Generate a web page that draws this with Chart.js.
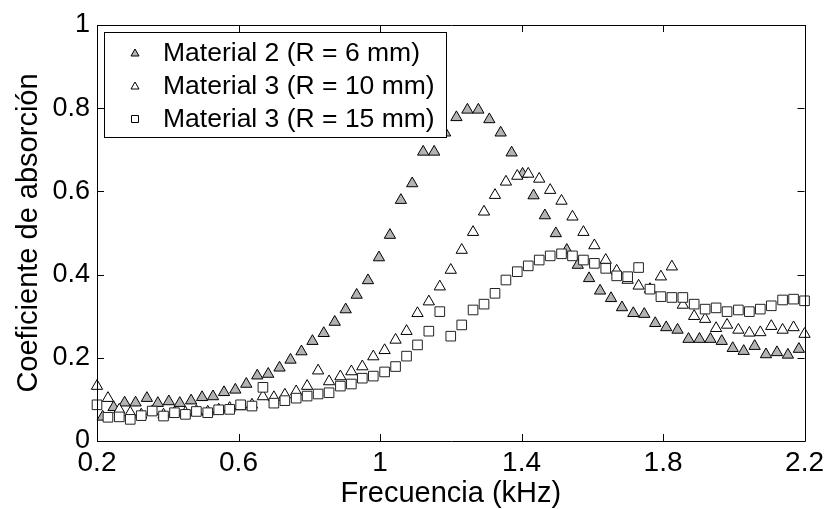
<!DOCTYPE html>
<html>
<head>
<meta charset="utf-8">
<script src="https://cdn.jsdelivr.net/npm/chart.js@4.4.0/dist/chart.umd.min.js"></script>
<style>
html, body { margin: 0; padding: 0; background: #fff; }
</style>
</head>
<body>
<canvas id="chart" width="829" height="509"></canvas>
<script>
// frequency grid (kHz) for Material 3 series
const freqA = [0.200, 0.231, 0.263, 0.294, 0.325, 0.356, 0.388, 0.419, 0.450, 0.481,
               0.513, 0.544, 0.575, 0.606, 0.638, 0.669, 0.700, 0.731, 0.763, 0.794,
               0.825, 0.856, 0.888, 0.919, 0.950, 0.981, 1.013, 1.044, 1.075, 1.106,
               1.138, 1.169, 1.200, 1.231, 1.263, 1.294, 1.325, 1.356, 1.388, 1.419,
               1.450, 1.481, 1.513, 1.544, 1.575, 1.606, 1.638, 1.669, 1.700, 1.731,
               1.763, 1.794, 1.825, 1.856, 1.888, 1.919, 1.950, 1.981, 2.013, 2.044,
               2.075, 2.106, 2.138, 2.169, 2.200];
// frequency grid (kHz) for Material 2 series
const freqB = [0.216, 0.247, 0.278, 0.309, 0.341, 0.372, 0.403, 0.434, 0.466, 0.497,
               0.528, 0.559, 0.591, 0.622, 0.653, 0.684, 0.716, 0.747, 0.778, 0.809,
               0.841, 0.872, 0.903, 0.934, 0.966, 0.997, 1.028, 1.059, 1.091, 1.122,
               1.153, 1.184, 1.216, 1.247, 1.278, 1.309, 1.341, 1.372, 1.403, 1.434,
               1.466, 1.497, 1.528, 1.559, 1.591, 1.622, 1.653, 1.684, 1.716, 1.747,
               1.778, 1.809, 1.841, 1.872, 1.903, 1.934, 1.966, 1.997, 2.028, 2.059,
               2.091, 2.122, 2.153, 2.184];

const mat2R6 = [0.058, 0.081, 0.092, 0.092, 0.103, 0.091, 0.095, 0.091, 0.097, 0.105,
                0.107, 0.117, 0.123, 0.137, 0.157, 0.161, 0.176, 0.195, 0.215, 0.240,
                0.259, 0.286, 0.316, 0.351, 0.386, 0.441, 0.495, 0.579, 0.619, 0.695,
                0.695, 0.741, 0.778, 0.796, 0.796, 0.773, 0.741, 0.693, 0.642, 0.590,
                0.542, 0.499, 0.459, 0.423, 0.391, 0.361, 0.343, 0.321, 0.307, 0.305,
                0.283, 0.273, 0.267, 0.245, 0.245, 0.245, 0.240, 0.223, 0.216, 0.228,
                0.208, 0.213, 0.207, 0.221];

const mat3R10 = [0.132, 0.103, 0.075, 0.068, 0.063, 0.071, 0.063, 0.068, 0.068, 0.072,
                 0.070, 0.075, 0.079, 0.083, 0.087, 0.107, 0.105, 0.111, 0.119, 0.132,
                 0.169, 0.143, 0.155, 0.167, 0.179, 0.203, 0.218, 0.243, 0.264, 0.307,
                 0.335, 0.371, 0.411, 0.459, 0.502, 0.551, 0.591, 0.623, 0.637, 0.642,
                 0.630, 0.603, 0.577, 0.539, 0.502, 0.470, 0.435, 0.409, 0.387, 0.373,
                 0.365, 0.395, 0.419, 0.327, 0.300, 0.293, 0.271, 0.279, 0.267, 0.260,
                 0.261, 0.276, 0.267, 0.273, 0.257];

const mat3R15 = [0.087, 0.057, 0.058, 0.052, 0.061, 0.072, 0.060, 0.068, 0.064, 0.071,
                 0.068, 0.075, 0.076, 0.087, 0.084, 0.129, 0.091, 0.097, 0.103, 0.108,
                 0.113, 0.116, 0.132, 0.137, 0.151, 0.156, 0.166, 0.179, 0.204, 0.231,
                 0.264, 0.311, 0.252, 0.279, 0.315, 0.329, 0.355, 0.387, 0.407, 0.421,
                 0.435, 0.445, 0.450, 0.445, 0.435, 0.427, 0.415, 0.397, 0.395, 0.417,
                 0.365, 0.347, 0.345, 0.345, 0.329, 0.317, 0.320, 0.311, 0.315, 0.311,
                 0.317, 0.325, 0.339, 0.341, 0.337];

const seriesNames = ['Material 2 (R = 6 mm)', 'Material 3 (R = 10 mm)', 'Material 3 (R = 15 mm)'];
const xTicks = [0.2, 0.6, 1.0, 1.4, 1.8, 2.2];
const xTickLabels = ['0.2', '0.6', '1', '1.4', '1.8', '2.2'];
const yTicks = [0, 0.2, 0.4, 0.6, 0.8, 1];
const yTickLabels = ['0', '0.2', '0.4', '0.6', '0.8', '1'];

const FONT = 'Liberation Sans, Arial, sans-serif';
const GRAY = '#b3b3b3';

const toPoints = (xs, ys) => ys.map((y, i) => ({x: xs[i], y: y}));

// matlab-like box with inward ticks
const boxAxes = {
    id: 'boxAxes',
    afterDatasetsDraw(chart) {
        const {ctx, chartArea: a, scales} = chart;
        const tl = 7;
        ctx.save();
        ctx.strokeStyle = '#000';
        ctx.lineWidth = 1;
        ctx.beginPath();
        ctx.rect(Math.round(a.left) + 0.5, Math.round(a.top) + 0.5,
                 Math.round(a.right - a.left), Math.round(a.bottom - a.top));
        scales.x.ticks.forEach(t => {
            const px = Math.round(scales.x.getPixelForValue(t.value)) + 0.5;
            ctx.moveTo(px, a.bottom); ctx.lineTo(px, a.bottom - tl);
            ctx.moveTo(px, a.top); ctx.lineTo(px, a.top + tl);
        });
        scales.y.ticks.forEach(t => {
            const py = Math.round(scales.y.getPixelForValue(t.value)) + 0.5;
            ctx.moveTo(a.left, py); ctx.lineTo(a.left + tl, py);
            ctx.moveTo(a.right, py); ctx.lineTo(a.right - tl, py);
        });
        ctx.stroke();
        ctx.restore();
    }
};

// legend box in the upper left corner
const legendBox = {
    id: 'legendBox',
    afterDraw(chart) {
        const ctx = chart.ctx;
        const a = chart.chartArea;
        const x0 = a.left + 7, y0 = a.top + 7, w = 342, h = 105;
        ctx.save();
        ctx.fillStyle = '#fff';
        ctx.fillRect(x0, y0, w, h);
        ctx.strokeStyle = '#000';
        ctx.lineWidth = 1;
        ctx.strokeRect(Math.round(x0) + 0.5, Math.round(y0) + 0.5, w, h);
        ctx.font = '26.5px ' + FONT;
        ctx.textBaseline = 'middle';
        ctx.fillStyle = '#000';
        chart.data.datasets.forEach((ds, i) => {
            const cy = y0 + 21 + i * 33;
            const mx = x0 + 31;
            ctx.beginPath();
            if (ds.pointStyle === 'rect') {
                ctx.rect(mx - 3.5, cy - 3.5, 7, 7);
            } else {
                ctx.moveTo(mx, cy - 4);
                ctx.lineTo(mx + 4, cy + 3);
                ctx.lineTo(mx - 4, cy + 3);
                ctx.closePath();
            }
            ctx.fillStyle = ds.backgroundColor;
            ctx.fill();
            ctx.strokeStyle = '#000';
            ctx.stroke();
            ctx.fillStyle = '#000';
            ctx.fillText(ds.label, x0 + 59, cy + 1);
        });
        ctx.restore();
    }
};

new Chart(document.getElementById('chart'), {
    type: 'scatter',
    data: {
        datasets: [
            {label: seriesNames[0], data: toPoints(freqB, mat2R6), pointStyle: 'triangle',
             pointRadius: 6.5, backgroundColor: GRAY, borderColor: '#000', borderWidth: 1, order: 2, clip: false},
            {label: seriesNames[1], data: toPoints(freqA, mat3R10), pointStyle: 'triangle',
             pointRadius: 6.5, backgroundColor: '#fff', borderColor: '#000', borderWidth: 1, order: 1, clip: false},
            {label: seriesNames[2], data: toPoints(freqA, mat3R15), pointStyle: 'rect',
             pointRadius: 6.8, backgroundColor: '#fff', borderColor: '#222', borderWidth: 1, order: 0, clip: false}
        ]
    },
    options: {
        responsive: false,
        animation: false,
        devicePixelRatio: 1,
        layout: {padding: {left: 0, right: 21, top: 25, bottom: 0}},
        plugins: {legend: {display: false}, tooltip: {enabled: false}},
        scales: {
            x: {
                type: 'linear', min: 0.2, max: 2.2,
                afterBuildTicks: s => { s.ticks = xTicks.map(v => ({value: v})); },
                afterFit: s => { s.height = 68; },
                grid: {display: false, drawTicks: false},
                border: {display: false},
                ticks: {
                    autoSkip: false, maxRotation: 0, padding: 5, color: '#000',
                    font: {family: FONT, size: 28},
                    callback: (v, i) => xTickLabels[i]
                },
                title: {display: true, text: 'Frecuencia (kHz)', color: '#000',
                        font: {family: FONT, size: 29}, padding: {top: 0, bottom: -2}}
            },
            y: {
                type: 'linear', min: 0, max: 1,
                afterBuildTicks: s => { s.ticks = yTicks.map(v => ({value: v})); },
                afterFit: s => { s.width = 97; },
                grid: {display: false, drawTicks: false},
                border: {display: false},
                ticks: {
                    autoSkip: false, padding: 7, color: '#000',
                    font: {family: FONT, size: 27},
                    callback: (v, i) => yTickLabels[i]
                },
                title: {display: true, text: 'Coeficiente de absorción', color: '#000',
                        font: {family: FONT, size: 29}, padding: {top: 12, bottom: 0}}
            }
        }
    },
    plugins: [boxAxes, legendBox]
});
</script>
</body>
</html>
